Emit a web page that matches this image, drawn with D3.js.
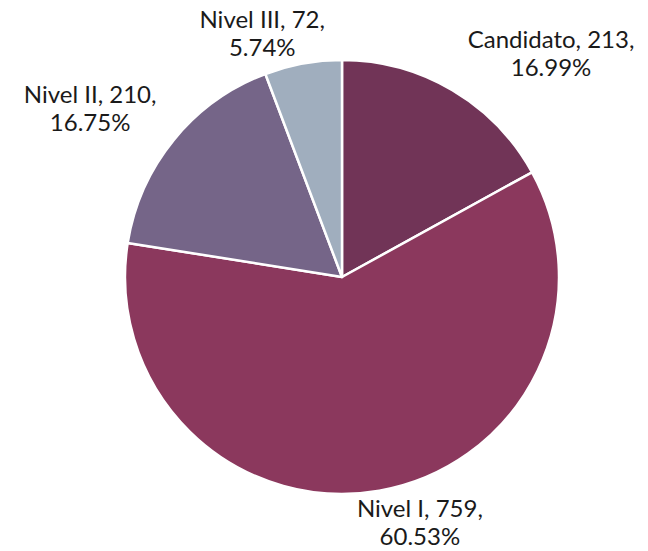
<!DOCTYPE html>
<html>
<head>
<meta charset="utf-8">
<script src="https://cdn.jsdelivr.net/npm/d3@7"></script>
<style>
  body { margin: 0; background: #fff; }
  text { font-family: Lato, "Open Sans", sans-serif; font-size: 24px; fill: #1a1a1a; }
</style>
</head>
<body>
<div id="chart"></div>
<script>
var width = 648, height = 551;

// data
var categories = ["Candidato", "Nivel I", "Nivel II", "Nivel III"];
var counts = [213, 759, 210, 72];
var percents = ["16.99%", "60.53%", "16.75%", "5.74%"];
var colors = ["#713457", "#8b385d", "#756588", "#a0aebe"];

// label placement around the pie (angle in degrees, distance of first baseline from centre)
var labelAngle = [42.4, 162, -55.4, -17.8];
var labelDist = [310, 252, 306, 261];

var cx = 342, cy = 277, radius = 217;

var svg = d3.select("#chart").append("svg")
    .attr("width", width)
    .attr("height", height);

var g = svg.append("g")
    .attr("transform", "translate(" + cx + "," + cy + ")");

var pie = d3.pie()
    .sort(null)
    .value(function(d) { return d; });

var arc = d3.arc()
    .innerRadius(0)
    .outerRadius(radius);

var arcs = pie(counts);

g.selectAll("path")
    .data(arcs)
    .enter()
    .append("path")
    .attr("d", arc)
    .attr("fill", function(d, i) { return colors[i]; })
    .attr("stroke", "#fff")
    .attr("stroke-width", 2.5)
    .attr("stroke-linejoin", "round");

var labels = g.selectAll(".label")
    .data(arcs)
    .enter()
    .append("text")
    .attr("class", "label")
    .attr("text-anchor", "middle")
    .attr("transform", function(d, i) {
        var p = d3.pointRadial(labelAngle[i] * Math.PI / 180, labelDist[i]);
        return "translate(" + p[0] + "," + p[1] + ")";
    });

labels.append("tspan")
    .attr("x", 0)
    .attr("y", 0)
    .text(function(d, i) { return categories[i] + ", " + counts[i] + ","; });

labels.append("tspan")
    .attr("x", 0)
    .attr("y", 28)
    .text(function(d, i) { return percents[i]; });
</script>
</body>
</html>
